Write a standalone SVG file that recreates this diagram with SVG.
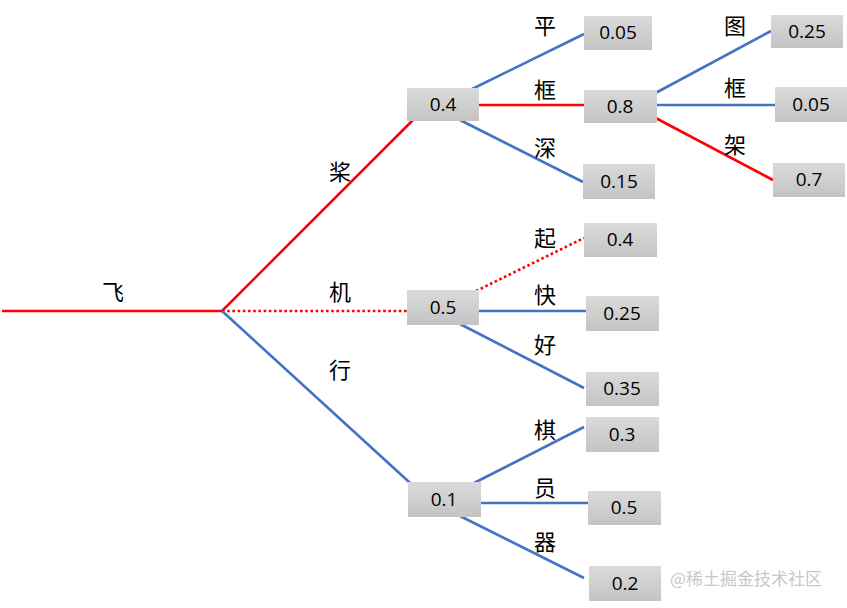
<svg xmlns="http://www.w3.org/2000/svg" width="847" height="608" viewBox="0 0 847 608">
<defs>
<linearGradient id="g" x1="0" y1="0" x2="0" y2="1">
<stop offset="0" stop-color="#dadada"/>
<stop offset="1" stop-color="#c4c4c4"/>
</linearGradient>
<style>
.r{stroke:#ff0000;stroke-width:2.6;fill:none}
.rd{stroke:#ff0000;stroke-width:2.6;fill:none;stroke-dasharray:2.6 2.6}
.b{stroke:#4472c4;stroke-width:2.6;fill:none}
.box{fill:url(#g)}
.v{font-family:"Open Sans","Liberation Sans",sans-serif;font-size:19px;fill:#000;text-anchor:middle}
.l{font-family:"Noto Sans CJK SC",sans-serif;font-size:22px;fill:#000;text-anchor:middle}
.wm{font-family:"Noto Sans CJK SC",sans-serif;font-size:17px;fill:#c8c8c8}
</style>
</defs>
<rect width="847" height="608" fill="#fff"/>
<g id="connectors">
<line class="r" x1="2" y1="311" x2="222" y2="311"/>
<line class="r" x1="222" y1="311" x2="415" y2="118"/>
<line class="rd" x1="222" y1="311" x2="407" y2="311"/>
<line class="b" x1="222" y1="311" x2="420" y2="492"/>
<line class="b" x1="470" y1="90" x2="584" y2="34"/>
<line class="r" x1="479" y1="105" x2="584" y2="105"/>
<line class="b" x1="460" y1="120" x2="583" y2="182"/>
<line class="b" x1="650" y1="96" x2="771" y2="31"/>
<line class="b" x1="657" y1="105" x2="775" y2="105"/>
<line class="r" x1="650" y1="115" x2="773" y2="180"/>
<line class="rd" x1="476" y1="291" x2="584" y2="238"/>
<line class="b" x1="479" y1="311" x2="586" y2="311"/>
<line class="b" x1="460" y1="324" x2="584" y2="388"/>
<line class="b" x1="474" y1="483" x2="584" y2="427"/>
<line class="b" x1="481" y1="503" x2="588" y2="503"/>
<line class="b" x1="460" y1="516" x2="584" y2="578"/>
</g>
<g id="labels">
<text class="l" x="113" y="300">飞</text>
<text class="l" x="340" y="180">桨</text>
<text class="l" x="340" y="300">机</text>
<text class="l" x="340" y="378">行</text>
<text class="l" x="545" y="34">平</text>
<text class="l" x="545" y="98">框</text>
<text class="l" x="545" y="156">深</text>
<text class="l" x="735" y="34">图</text>
<text class="l" x="735" y="96">框</text>
<text class="l" x="735" y="153">架</text>
<text class="l" x="545" y="246">起</text>
<text class="l" x="545" y="303">快</text>
<text class="l" x="545" y="353">好</text>
<text class="l" x="545" y="438">棋</text>
<text class="l" x="545" y="496">员</text>
<text class="l" x="545" y="550">器</text>
</g>
<g id="n04"><rect class="box" x="407" y="88" width="72" height="33"/><text class="v" x="443" y="111">0.4</text></g>
<g id="n05"><rect class="box" x="407" y="290" width="72" height="35"/><text class="v" x="443" y="314">0.5</text></g>
<g id="n01"><rect class="box" x="408" y="482" width="73" height="35"/><text class="v" x="444" y="506">0.1</text></g>
<g id="n005a"><rect class="box" x="584" y="16" width="68" height="34"/><text class="v" x="618" y="39">0.05</text></g>
<g id="n08"><rect class="box" x="584" y="90" width="73" height="33"/><text class="v" x="620" y="113">0.8</text></g>
<g id="n015"><rect class="box" x="583" y="164" width="72" height="35"/><text class="v" x="619" y="188">0.15</text></g>
<g id="n025a"><rect class="box" x="771" y="15" width="72" height="33"/><text class="v" x="807" y="38">0.25</text></g>
<g id="n005b"><rect class="box" x="775" y="87" width="72" height="35"/><text class="v" x="811" y="111">0.05</text></g>
<g id="n07"><rect class="box" x="773" y="163" width="72" height="34"/><text class="v" x="809" y="186">0.7</text></g>
<g id="n04b"><rect class="box" x="584" y="223" width="73" height="34"/><text class="v" x="620" y="246">0.4</text></g>
<g id="n025b"><rect class="box" x="586" y="296" width="73" height="35"/><text class="v" x="622" y="320">0.25</text></g>
<g id="n035"><rect class="box" x="586" y="372" width="73" height="34"/><text class="v" x="622" y="395">0.35</text></g>
<g id="n03"><rect class="box" x="586" y="417" width="73" height="35"/><text class="v" x="622" y="441">0.3</text></g>
<g id="n05b"><rect class="box" x="588" y="491" width="73" height="34"/><text class="v" x="624" y="514">0.5</text></g>
<g id="n02"><rect class="box" x="589" y="566" width="72" height="35"/><text class="v" x="625" y="590">0.2</text></g>
<text class="wm" x="670" y="585">@稀土掘金技术社区</text>
</svg>
